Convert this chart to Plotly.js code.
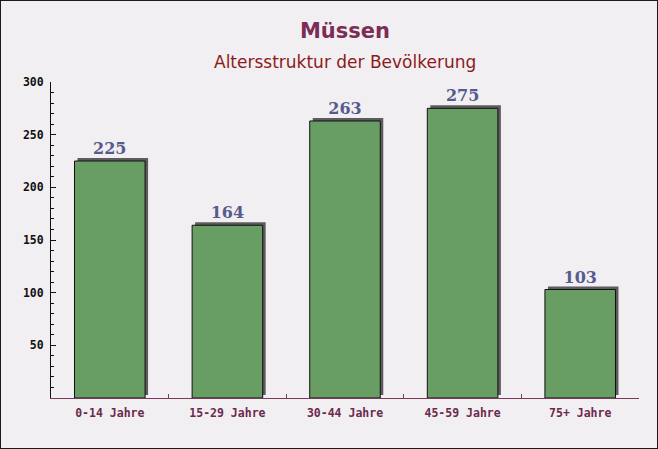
<!DOCTYPE html>
<html>
<head>
<meta charset="utf-8">
<script src="https://cdn.plot.ly/plotly-3.0.1.min.js"></script>
<style>
html,body{margin:0;padding:0;background:#fff;}
#chart{width:656px;height:447px;border:1px solid #1a1a1a;}
</style>
</head>
<body>
<div id="chart"></div>
<script>
const categories = ["0-14 Jahre", "15-29 Jahre", "30-44 Jahre", "45-59 Jahre", "75+ Jahre"];
const values = [225, 164, 263, 275, 103];
const titleText = "Müssen";
const subtitleText = "Altersstruktur der Bevölkerung";

const W = 656, H = 447;
const M = {l: 50, r: 18, t: 81, b: 50};
const pw = W - M.l - M.r, ph = H - M.t - M.b;
const yMax = 300;
const sx = 3, sy = 3; // shadow offset in px
const catPx = pw / categories.length;
const unitPx = ph / yMax;

// shadow on base (hidden) axes, drawn first
const shadow = {
  type: 'bar', x: categories, y: values, xaxis: 'x', yaxis: 'y',
  width: 0.6, marker: {color: '#5e5a5e', line: {width: 0}},
  hoverinfo: 'skip', showlegend: false
};
// visible bars on x2/y2, drawn on top
const bars = {
  type: 'bar', x: categories, y: values, xaxis: 'x2', yaxis: 'y2',
  width: 0.6,
  marker: {color: 'rgb(104,158,99)', line: {color: '#111', width: 1}},
  text: values.map(String), textposition: 'outside', cliponaxis: false,
  textfont: {family: 'DejaVu Serif', size: 16, color: '#555c8c', weight: 'bold'},
  showlegend: false
};

const layout = {
  width: W, height: H,
  margin: M,
  paper_bgcolor: '#f2eff2', plot_bgcolor: 'rgba(0,0,0,0)',
  bargap: 0.4,
  title: {text: '<b>' + titleText + '</b>', x: 0.5, xref: 'paper', xanchor: 'center', y: 1 - 30/H, yanchor: 'middle', yref: 'container',
    font: {family: 'DejaVu Sans', size: 21, color: '#7b2d56'}},
  annotations: [{text: subtitleText, xref: 'paper', x: 0.5, xanchor: 'center', yref: 'paper', y: 1 + (M.t - 61)/ph, yanchor: 'middle', showarrow: false,
    font: {family: 'DejaVu Sans', size: 17, color: '#8b1a1a'}}],
  xaxis: {type: 'category', anchor: 'y', domain: [sx / pw, 1], range: [-0.5, -0.5 + (pw - sx) / catPx],
    visible: false, fixedrange: true},
  yaxis: {anchor: 'x', domain: [sy / ph, 1], range: [0, (ph - sy) / unitPx], visible: false, fixedrange: true},
  xaxis2: {type: 'category', anchor: 'y2', domain: [0, 1], range: [-0.5, categories.length - 0.5], showgrid: false, zeroline: false,
    showline: true, linecolor: '#7a3a5e', linewidth: 1,
    ticks: 'inside', tickson: 'boundaries', ticklen: 4, tickcolor: '#7a3a5e',
    tickfont: {family: 'DejaVu Sans Mono', size: 11.5, color: '#6b2a4c', weight: 'bold'}, ticklabelstandoff: 4,
    fixedrange: true},
  yaxis2: {anchor: 'x2', domain: [0, 1], range: [0, yMax], showgrid: false, zeroline: false, showline: true, linecolor: '#111', linewidth: 1,
    ticks: 'inside', ticklen: 5, tickcolor: '#111',
    minor: {dtick: 10, ticks: 'inside', ticklen: 3, tickcolor: '#111'},
    tickfont: {family: 'DejaVu Sans Mono', size: 11.5, color: '#111', weight: 'bold'}, ticklabelstandoff: 4,
    tickvals: [50, 100, 150, 200, 250, 300],
    fixedrange: true}
};
Plotly.newPlot('chart', [shadow, bars], layout, {displayModeBar: false, staticPlot: true});
</script>
</body>
</html>
